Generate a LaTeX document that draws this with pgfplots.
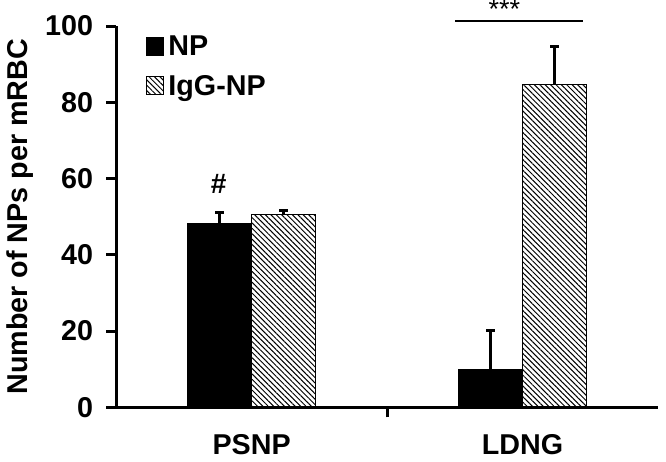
\documentclass[border=0pt]{standalone}
\usepackage{fontspec}
\setmainfont{Liberation Sans}
\usepackage{pgfplots}
\pgfplotsset{compat=1.18}
\usetikzlibrary{patterns.meta}

\tikzset{hatch/.style={pattern={Lines[angle=-45,distance=1.9pt,line width=0.5pt]}, pattern color=black}}

\begin{document}
\begin{tikzpicture}
\begin{axis}[
    scale only axis,
    width=270pt, height=190pt,
    xmin=0, xmax=2,
    ymin=0, ymax=100,
    axis lines=left,
    axis line style={-, line width=1.5pt},
    clip=false,
    xtick={0.5,1.5},
    xticklabels={PSNP, LDNG},
    minor xtick={1},
    ytick={0,20,40,60,80,100},
    tick align=outside,
    major tick length=5pt,
    minor tick length=5pt,
    major x tick style={draw=none},
    minor x tick style={black, line width=1.5pt},
    y tick style={black, line width=1.5pt},
    ticklabel style={font=\fontsize{14.3}{16}\selectfont\bfseries},
    /pgf/number format/assume math mode=true,
    xticklabel style={yshift=-5pt},
    yticklabel style={xshift=-3pt},
    ylabel={Number of NPs per mRBC},
    ylabel style={font=\fontsize{14.3}{16}\selectfont\bfseries, yshift=-1pt},
    ybar,
    bar width=0.237,
    legend style={at={(0.055,0.985)}, anchor=north west, draw=none, fill=none,
        font=\fontsize{14.3}{16}\selectfont\bfseries, row sep=4pt,
        legend cell align=left, inner sep=0pt},
    legend image code/.code={\draw[#1, line width=0.5pt] (0pt,-3.8pt) rectangle (8.5pt,4.8pt);},
    error bars/y dir=plus,
    error bars/y explicit,
    error bars/error bar style={line width=1.5pt, black},
    error bars/error mark options={rotate=90, mark size=2.2pt, line width=1.5pt, black},
]
\addplot[fill=black, draw=black, bar shift=-0.1185] coordinates {
    (0.5,48.2) +- (0,2.8)
    (1.5,10.0) +- (0,10.2)
};
\addlegendentry{NP}
\addplot[hatch, draw=black, line width=0.5pt, bar shift=0.1185] coordinates {
    (0.5,50.6) +- (0,1.0)
    (1.5,84.8) +- (0,9.8)
};
\addlegendentry{IgG-NP}

\node[font=\fontsize{14}{16}\selectfont\bfseries] at (axis cs:0.378,58.5) {\#};
\draw[line width=1pt] (axis cs:1.252,101.3) -- (axis cs:1.722,101.3);
\node[font=\fontsize{13.5}{15}\selectfont, inner sep=0pt] at (axis cs:1.433,104.4) {***};
\path (axis cs:2,0) ++(4pt,0);
\end{axis}
\end{tikzpicture}
\end{document}
